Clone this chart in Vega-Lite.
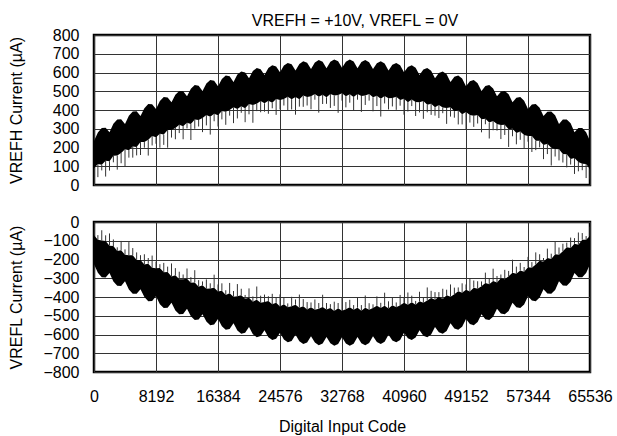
{
"$schema": "https://vega.github.io/schema/vega-lite/v6.json",
"padding": {"left": 6, "top": 12, "right": 5, "bottom": 5},
"spacing": 37,
"bounds": "flush",
"title": {"text": "VREFH = +10V, VREFL = 0V", "fontSize": 16, "fontWeight": "normal", "baseline": "alphabetic", "offset": -16, "frame": "group", "anchor": "middle", "dx": 13, "color": "black"},
"config": {
 "font": "Liberation Sans",
 "view": {"stroke": "black", "strokeWidth": 2.5},
 "axis": {"labelColor": "black", "titleColor": "black", "labelFontSize": 16, "titleFontSize": 16, "titleFontWeight": "normal", "gridColor": "#333", "gridOpacity": 1, "gridWidth": 1, "domain": false, "ticks": false, "tickSize": 0, "labelFlush": false, "labelOverlap": false}
},
"datasets": {
"top": [
{"c":0,"a":235,"b":90,"s":45},{"c":512,"a":280,"b":112,"s":42},{"c":1024,"a":304,"b":108,"s":78},{"c":1536,"a":306,"b":130,"s":45},
{"c":2048,"a":282,"b":127,"s":77},{"c":2560,"a":327,"b":156,"s":121},{"c":3072,"a":350,"b":157,"s":82},{"c":3584,"a":351,"b":171,"s":116},
{"c":4096,"a":326,"b":191,"s":96},{"c":4608,"a":370,"b":186,"s":146},{"c":5120,"a":392,"b":206,"s":146},{"c":5632,"a":393,"b":203,"s":158},
{"c":6144,"a":368,"b":230,"s":160},{"c":6656,"a":410,"b":229,"s":199},{"c":7168,"a":432,"b":242,"s":157},{"c":7680,"a":431,"b":261,"s":211},
{"c":8192,"a":406,"b":255,"s":220},{"c":8704,"a":448,"b":274,"s":199},{"c":9216,"a":469,"b":269,"s":214},{"c":9728,"a":467,"b":294,"s":199},
{"c":10240,"a":441,"b":293,"s":253},{"c":10752,"a":482,"b":304,"s":244},{"c":11264,"a":502,"b":322,"s":277},{"c":11776,"a":500,"b":314,"s":244},
{"c":12288,"a":473,"b":332,"s":302},{"c":12800,"a":513,"b":325,"s":240},{"c":13312,"a":533,"b":350,"s":300},{"c":13824,"a":530,"b":347,"s":312},
{"c":14336,"a":502,"b":357,"s":282},{"c":14848,"a":541,"b":373,"s":318},{"c":15360,"a":560,"b":364,"s":269},{"c":15872,"a":556,"b":380,"s":340},
{"c":16384,"a":527,"b":372,"s":312},{"c":16896,"a":566,"b":395,"s":350},{"c":17408,"a":584,"b":391,"s":321},{"c":17920,"a":580,"b":400,"s":370},
{"c":18432,"a":550,"b":415,"s":330},{"c":18944,"a":589,"b":405,"s":355},{"c":19456,"a":606,"b":420,"s":385},{"c":19968,"a":600,"b":410,"s":335},
{"c":20480,"a":570,"b":432,"s":377},{"c":20992,"a":608,"b":427,"s":332},{"c":21504,"a":624,"b":434,"s":394},{"c":22016,"a":618,"b":448,"s":388},
{"c":22528,"a":587,"b":436,"s":391},{"c":23040,"a":624,"b":450,"s":380},{"c":23552,"a":639,"b":439,"s":409},{"c":24064,"a":632,"b":459,"s":374},
{"c":24576,"a":601,"b":453,"s":403},{"c":25088,"a":637,"b":459,"s":424},{"c":25600,"a":651,"b":471,"s":396},{"c":26112,"a":644,"b":458,"s":403},
{"c":26624,"a":611,"b":470,"s":375},{"c":27136,"a":646,"b":458,"s":418},{"c":27648,"a":660,"b":477,"s":417},{"c":28160,"a":652,"b":469,"s":424},
{"c":28672,"a":619,"b":474,"s":404},{"c":29184,"a":653,"b":485,"s":455},{"c":29696,"a":667,"b":471,"s":386},{"c":30208,"a":658,"b":482,"s":432},
{"c":30720,"a":623,"b":468,"s":433},{"c":31232,"a":657,"b":486,"s":411},{"c":31744,"a":670,"b":477,"s":422},{"c":32256,"a":660,"b":480,"s":385},
{"c":32768,"a":625,"b":490,"s":450},{"c":33280,"a":658,"b":474,"s":414},{"c":33792,"a":670,"b":484,"s":439},{"c":34304,"a":659,"b":469,"s":399},
{"c":34816,"a":623,"b":485,"s":455},{"c":35328,"a":656,"b":475,"s":390},{"c":35840,"a":667,"b":477,"s":427},{"c":36352,"a":655,"b":485,"s":450},
{"c":36864,"a":619,"b":468,"s":393},{"c":37376,"a":650,"b":476,"s":421},{"c":37888,"a":660,"b":460,"s":365},{"c":38400,"a":648,"b":475,"s":435},
{"c":38912,"a":611,"b":463,"s":403},{"c":39424,"a":642,"b":464,"s":419},{"c":39936,"a":651,"b":471,"s":401},{"c":40448,"a":639,"b":453,"s":423},
{"c":40960,"a":601,"b":460,"s":375},{"c":41472,"a":630,"b":442,"s":392},{"c":41984,"a":639,"b":456,"s":421},{"c":42496,"a":626,"b":443,"s":368},
{"c":43008,"a":587,"b":442,"s":387},{"c":43520,"a":616,"b":448,"s":353},{"c":44032,"a":624,"b":428,"s":388},{"c":44544,"a":610,"b":434,"s":374},
{"c":45056,"a":570,"b":415,"s":370},{"c":45568,"a":598,"b":427,"s":357},{"c":46080,"a":606,"b":413,"s":383},{"c":46592,"a":591,"b":411,"s":326},
{"c":47104,"a":550,"b":415,"s":365},{"c":47616,"a":578,"b":394,"s":359},{"c":48128,"a":584,"b":398,"s":323},{"c":48640,"a":568,"b":378,"s":323},
{"c":49152,"a":527,"b":389,"s":294},{"c":49664,"a":554,"b":373,"s":333},{"c":50176,"a":560,"b":370,"s":310},{"c":50688,"a":543,"b":373,"s":328},
{"c":51200,"a":502,"b":351,"s":281},{"c":51712,"a":528,"b":354,"s":324},{"c":52224,"a":533,"b":333,"s":248},{"c":52736,"a":515,"b":342,"s":292},
{"c":53248,"a":473,"b":325,"s":290},{"c":53760,"a":498,"b":320,"s":245},{"c":54272,"a":502,"b":322,"s":267},{"c":54784,"a":484,"b":298,"s":203},
{"c":55296,"a":441,"b":300,"s":260},{"c":55808,"a":465,"b":277,"s":217},{"c":56320,"a":469,"b":286,"s":241},{"c":56832,"a":450,"b":267,"s":197},
{"c":57344,"a":406,"b":261,"s":231},{"c":57856,"a":429,"b":261,"s":176},{"c":58368,"a":432,"b":236,"s":186},{"c":58880,"a":412,"b":236,"s":201},
{"c":59392,"a":368,"b":213,"s":138},{"c":59904,"a":391,"b":220,"s":165},{"c":60416,"a":392,"b":199,"s":104},{"c":60928,"a":372,"b":192,"s":152},
{"c":61440,"a":326,"b":191,"s":131},{"c":61952,"a":349,"b":165,"s":120},{"c":62464,"a":350,"b":164,"s":94},{"c":62976,"a":329,"b":139,"s":109},
{"c":63488,"a":282,"b":144,"s":59},{"c":64000,"a":304,"b":123,"s":73},{"c":64512,"a":304,"b":114,"s":79},{"c":65024,"a":282,"b":112,"s":37},
{"c":65536,"a":235,"b":84,"s":29}
],
"bot": [
{"c":0,"a":-225,"b":-70,"s":-30},{"c":512,"a":-270,"b":-95,"s":-70},{"c":1024,"a":-294,"b":-99,"s":-44},{"c":1536,"a":-296,"b":-101,"s":-71},
{"c":2048,"a":-272,"b":-126,"s":-61},{"c":2560,"a":-317,"b":-128,"s":-93},{"c":3072,"a":-340,"b":-155,"s":-135},{"c":3584,"a":-341,"b":-151,"s":-101},
{"c":4096,"a":-316,"b":-174,"s":-146},{"c":4608,"a":-360,"b":-177,"s":-107},{"c":5120,"a":-382,"b":-177,"s":-139},{"c":5632,"a":-383,"b":-202,"s":-162},
{"c":6144,"a":-358,"b":-202,"s":-177},{"c":6656,"a":-400,"b":-227,"s":-172},{"c":7168,"a":-422,"b":-222,"s":-192},{"c":7680,"a":-421,"b":-244,"s":-179},
{"c":8192,"a":-396,"b":-246,"s":-211},{"c":8704,"a":-438,"b":-245,"s":-225},{"c":9216,"a":-459,"b":-268,"s":-218},{"c":9728,"a":-457,"b":-266,"s":-238},
{"c":10240,"a":-431,"b":-291,"s":-221},{"c":10752,"a":-472,"b":-284,"s":-246},{"c":11264,"a":-492,"b":-305,"s":-265},{"c":11776,"a":-490,"b":-305,"s":-280},
{"c":12288,"a":-463,"b":-303,"s":-248},{"c":12800,"a":-503,"b":-324,"s":-294},{"c":13312,"a":-523,"b":-322,"s":-257},{"c":13824,"a":-520,"b":-345,"s":-310},
{"c":14336,"a":-492,"b":-337,"s":-317},{"c":14848,"a":-531,"b":-356,"s":-306},{"c":15360,"a":-550,"b":-355,"s":-327},{"c":15872,"a":-546,"b":-351,"s":-281},
{"c":16384,"a":-517,"b":-371,"s":-333},{"c":16896,"a":-556,"b":-367,"s":-327},{"c":17408,"a":-574,"b":-389,"s":-364},{"c":17920,"a":-570,"b":-380,"s":-325},
{"c":18432,"a":-540,"b":-398,"s":-368},{"c":18944,"a":-579,"b":-396,"s":-331},{"c":19456,"a":-596,"b":-391,"s":-356},{"c":19968,"a":-590,"b":-409,"s":-389},
{"c":20480,"a":-560,"b":-404,"s":-354},{"c":20992,"a":-598,"b":-425,"s":-397},{"c":21504,"a":-614,"b":-414,"s":-344},{"c":22016,"a":-608,"b":-431,"s":-393},
{"c":22528,"a":-577,"b":-427,"s":-387},{"c":23040,"a":-614,"b":-421,"s":-396},{"c":23552,"a":-629,"b":-438,"s":-383},{"c":24064,"a":-622,"b":-431,"s":-401},
{"c":24576,"a":-591,"b":-451,"s":-386},{"c":25088,"a":-627,"b":-439,"s":-404},{"c":25600,"a":-641,"b":-454,"s":-434},{"c":26112,"a":-634,"b":-449,"s":-399},
{"c":26624,"a":-601,"b":-441,"s":-413},{"c":27136,"a":-636,"b":-457,"s":-387},{"c":27648,"a":-650,"b":-449,"s":-411},{"c":28160,"a":-642,"b":-467,"s":-427},
{"c":28672,"a":-609,"b":-454,"s":-429},{"c":29184,"a":-643,"b":-468,"s":-413},{"c":29696,"a":-657,"b":-462,"s":-432},{"c":30208,"a":-648,"b":-453,"s":-388},
{"c":30720,"a":-613,"b":-467,"s":-432},{"c":31232,"a":-647,"b":-458,"s":-438},{"c":31744,"a":-660,"b":-475,"s":-425},{"c":32256,"a":-650,"b":-460,"s":-432},
{"c":32768,"a":-615,"b":-473,"s":-403},{"c":33280,"a":-648,"b":-465,"s":-427},{"c":33792,"a":-660,"b":-455,"s":-415},{"c":34304,"a":-649,"b":-468,"s":-443},
{"c":34816,"a":-613,"b":-457,"s":-402},{"c":35328,"a":-646,"b":-473,"s":-443},{"c":35840,"a":-657,"b":-457,"s":-392},{"c":36352,"a":-645,"b":-468,"s":-433},
{"c":36864,"a":-609,"b":-459,"s":-439},{"c":37376,"a":-640,"b":-447,"s":-397},{"c":37888,"a":-650,"b":-459,"s":-431},{"c":38400,"a":-638,"b":-447,"s":-377},
{"c":38912,"a":-601,"b":-461,"s":-423},{"c":39424,"a":-632,"b":-444,"s":-404},{"c":39936,"a":-641,"b":-454,"s":-429},{"c":40448,"a":-629,"b":-444,"s":-389},
{"c":40960,"a":-591,"b":-431,"s":-401},{"c":41472,"a":-620,"b":-441,"s":-376},{"c":41984,"a":-629,"b":-428,"s":-393},{"c":42496,"a":-616,"b":-441,"s":-421},
{"c":43008,"a":-577,"b":-422,"s":-372},{"c":43520,"a":-606,"b":-431,"s":-403},{"c":44032,"a":-614,"b":-419,"s":-349},{"c":44544,"a":-600,"b":-405,"s":-367},
{"c":45056,"a":-560,"b":-414,"s":-374},{"c":45568,"a":-588,"b":-399,"s":-374},{"c":46080,"a":-596,"b":-411,"s":-356},{"c":46592,"a":-581,"b":-391,"s":-361},
{"c":47104,"a":-540,"b":-398,"s":-333},{"c":47616,"a":-568,"b":-385,"s":-350},{"c":48128,"a":-574,"b":-369,"s":-349},{"c":48640,"a":-558,"b":-377,"s":-327},
{"c":49152,"a":-517,"b":-361,"s":-333},{"c":49664,"a":-544,"b":-371,"s":-301},{"c":50176,"a":-550,"b":-350,"s":-312},{"c":50688,"a":-533,"b":-356,"s":-316},
{"c":51200,"a":-492,"b":-342,"s":-317},{"c":51712,"a":-518,"b":-325,"s":-270},{"c":52224,"a":-523,"b":-332,"s":-302},{"c":52736,"a":-505,"b":-314,"s":-249},
{"c":53248,"a":-463,"b":-323,"s":-288},{"c":53760,"a":-488,"b":-300,"s":-280},{"c":54272,"a":-492,"b":-305,"s":-255},{"c":54784,"a":-474,"b":-289,"s":-261},
{"c":55296,"a":-431,"b":-271,"s":-201},{"c":55808,"a":-455,"b":-276,"s":-238},{"c":56320,"a":-459,"b":-258,"s":-218},{"c":56832,"a":-440,"b":-265,"s":-240},
{"c":57344,"a":-396,"b":-241,"s":-186},{"c":57856,"a":-419,"b":-244,"s":-214},{"c":58368,"a":-422,"b":-227,"s":-162},{"c":58880,"a":-402,"b":-207,"s":-172},
{"c":59392,"a":-358,"b":-212,"s":-192},{"c":59904,"a":-381,"b":-192,"s":-142},{"c":60416,"a":-382,"b":-197,"s":-169},{"c":60928,"a":-362,"b":-172,"s":-102},
{"c":61440,"a":-316,"b":-174,"s":-136},{"c":61952,"a":-339,"b":-156,"s":-116},{"c":62464,"a":-340,"b":-135,"s":-110},{"c":62976,"a":-319,"b":-138,"s":-83},
{"c":63488,"a":-272,"b":-116,"s":-86},{"c":64000,"a":-294,"b":-121,"s":-56},{"c":64512,"a":-294,"b":-94,"s":-59},{"c":65024,"a":-272,"b":-95,"s":-75},
{"c":65536,"a":-225,"b":-75,"s":-25}
]
},
"vconcat": [
{
 "width": 496, "height": 150,
 "data": {"name": "top"},
 "encoding": {
  "x": {"field": "c", "type": "quantitative", "scale": {"domain": [0, 65536], "nice": false, "zero": false},
        "axis": {"values": [0, 8192, 16384, 24576, 32768, 40960, 49152, 57344, 65536], "tickCount": 9, "labels": false, "title": null, "grid": true}}
 },
 "layer": [
  {"mark": {"type": "area", "color": "black", "clip": true},
   "encoding": {
    "y": {"field": "a", "type": "quantitative", "title": "VREFH Current (µA)", "scale": {"domain": [0, 800], "nice": false},
          "axis": {"values": [0, 100, 200, 300, 400, 500, 600, 700, 800], "tickCount": 9, "labelPadding": 15, "titleX": -70, "grid": true}},
    "y2": {"field": "b"}}},
  {"mark": {"type": "rule", "color": "#333", "strokeWidth": 1, "clip": true},
   "encoding": {
    "y": {"field": "b", "type": "quantitative", "title": "VREFH Current (µA)"},
    "y2": {"field": "s"}}}
 ]
},
{
 "width": 496, "height": 150,
 "data": {"name": "bot"},
 "encoding": {
  "x": {"field": "c", "type": "quantitative", "scale": {"domain": [0, 65536], "nice": false, "zero": false},
        "axis": {"values": [0, 8192, 16384, 24576, 32768, 40960, 49152, 57344, 65536], "tickCount": 9, "format": "d", "labelPadding": 16, "title": "Digital Input Code", "titlePadding": 14, "grid": true}}
 },
 "layer": [
  {"mark": {"type": "area", "color": "black", "clip": true},
   "encoding": {
    "y": {"field": "a", "type": "quantitative", "title": "VREFL Current (µA)", "scale": {"domain": [-800, 0], "nice": false},
          "axis": {"values": [-800, -700, -600, -500, -400, -300, -200, -100, 0], "tickCount": 9, "labelPadding": 15, "titleX": -70, "grid": true}},
    "y2": {"field": "b"}}},
  {"mark": {"type": "rule", "color": "#333", "strokeWidth": 1, "clip": true},
   "encoding": {
    "y": {"field": "b", "type": "quantitative", "title": "VREFL Current (µA)"},
    "y2": {"field": "s"}}}
 ]
}
]
}
